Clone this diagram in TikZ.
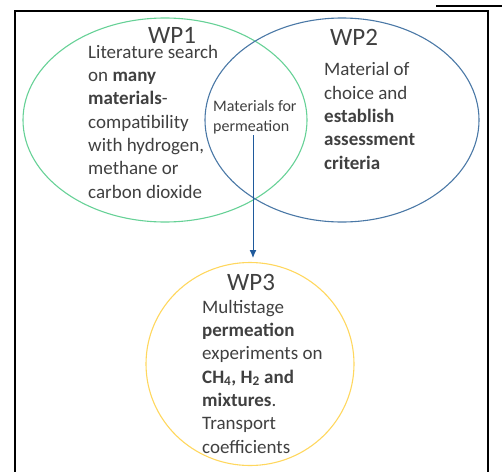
\documentclass[tikz,border=0pt]{standalone}
\usepackage{fontspec}
\setmainfont{Carlito}
\usetikzlibrary{arrows.meta, shapes.geometric}

\definecolor{wpgreen}{HTML}{66D196}
\definecolor{wpblue}{HTML}{4A78A6}
\definecolor{wpyellow}{HTML}{FFD75E}
\definecolor{arrowblue}{HTML}{1F5A9C}
\definecolor{txtgray}{HTML}{404040}

\begin{document}
\begin{tikzpicture}[x=1pt, y=-1pt,
  wp/.style={ellipse, draw, line width=1.1pt, inner sep=0pt},
  title/.style={anchor=base, inner sep=0pt, text=txtgray, font=\fontsize{25}{30}\selectfont},
  % multi-line texts are placed by the baseline of their last line
  body/.style={anchor=base west, align=left, inner sep=0pt, text=txtgray, font=\fontsize{19}{23.3}\selectfont},
  small/.style={anchor=base west, align=left, inner sep=0pt, text=txtgray, font=\fontsize{16}{20}\selectfont},
  line/.style={-{Latex[length=8pt, width=7pt]}, line width=1pt, draw=arrowblue}
]
\useasboundingbox (0,0) rectangle (502,471);

% frame
\draw[line width=1.8pt] (15,475) -- (15,11) -- (488,11) -- (488,475);
\draw[line width=2pt] (436,6) -- (502,6);

% work packages
\node[wp, draw=wpgreen, minimum width=284pt, minimum height=204pt] (wp1) at (165,120) {};
\node[wp, draw=wpblue, minimum width=274pt, minimum height=204pt] (wp2) at (342,120) {};
\node[wp, draw=wpyellow, minimum width=208pt, minimum height=203pt] (wp3) at (250,364) {};

\node[title] (t1) at (172,43) {WP1};
\node[title] (t2) at (354,45) {WP2};
\node[title] (t3) at (251,290) {WP3};

\node[body] (b1) at (88,198) {Literature search\\on \textbf{many}\\\textbf{materials}-\\compatibility\\with hydrogen,\\methane or\\carbon dioxide};
\node[body] (b2) at (324,169) {Material of\\choice and\\\textbf{establish}\\\textbf{assessment}\\\textbf{criteria}};
\node[body] (b3) at (202,453) {Multistage\\\textbf{permeation}\\experiments on\\\textbf{CH\textsubscript{4}, H\textsubscript{2} and}\\\textbf{mixtures}.\\Transport\\coefficients};

\node[small] (mat) at (213,131) {Materials for\\permeation};

\draw[line, shorten >=4pt] (253,135) -- (253,262);
\end{tikzpicture}
\end{document}
